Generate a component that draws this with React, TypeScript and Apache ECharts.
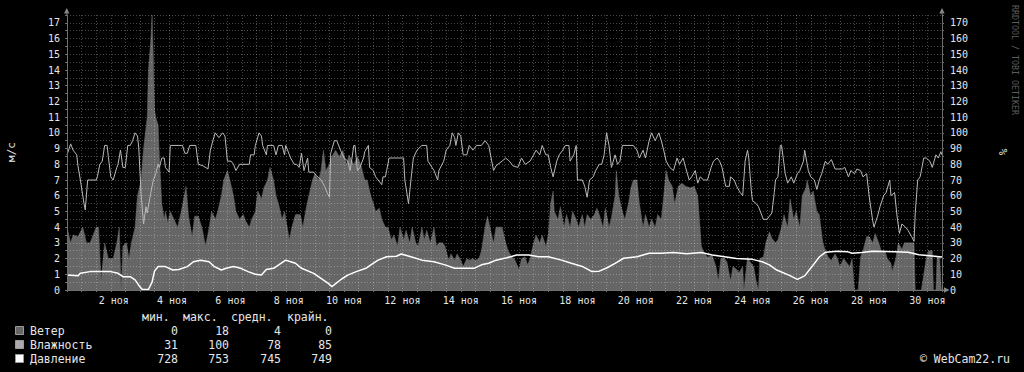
import React, { useEffect, useRef } from "react";
import * as echarts from "echarts";

// Time axis: hours since 31 Oct 12:00 (0..720 = 30 days)
const monthLabel = "ноя";

// Wind speed, m/s: [hour, value]
const windData: [number, number][] = [
  [0, 4], [3, 3], [5, 3.5], [9, 3.4], [13, 4], [16, 3], [19, 3], [24, 4], [26, 4], [28, 0.6],
  [31, 3], [34, 2], [38, 2], [41, 3], [43, 4], [44.5, 0], [46, 2.8], [49, 3], [51, 2], [53, 3],
  [56, 4], [58, 6], [61, 7], [63, 9], [66, 11], [67, 14], [69, 16], [70, 17.5], [71, 15], [72, 11.5],
  [73, 11], [75, 10.5], [76, 8.5], [78, 5.5], [80, 4.5], [81, 5], [83, 4.3], [85, 5], [88, 4.5], [91, 4],
  [94, 5], [98, 6.6], [100, 4.7], [103, 3.4], [105, 4.7], [108, 4.7], [111, 4], [114, 2.8], [117, 4], [119, 5],
  [122, 4.5], [124, 5], [127, 6], [129, 7], [132, 7.6], [134, 7], [137, 6], [139, 5], [142, 4.5], [145, 4.8],
  [147, 4.4], [150, 4], [152, 4.5], [155, 5], [157, 6.3], [160, 5.8], [162, 6.5], [165, 7], [167, 7.8], [170, 7],
  [172, 6], [174, 5.5], [177, 4.5], [179, 5], [183, 3.2], [185, 4], [188, 4.8], [192, 4.8], [194, 4], [197, 5.3],
  [199, 6], [202, 7], [204, 7.4], [207, 7], [209, 7.6], [211, 8.9], [213, 7.6], [216, 8], [218, 8.5], [221, 8.9],
  [224, 8.5], [227, 8.9], [230, 8], [232, 8.6], [236, 8], [239, 8.5], [242, 7.9], [245, 7], [247, 7], [250, 6],
  [252, 5.5], [254, 5], [257, 5.2], [259, 4.5], [262, 4], [264, 4], [267, 3.2], [269, 3.5], [272, 2.8], [274, 4],
  [277, 3.2], [279, 3.8], [282, 3], [284, 4], [287, 3], [289, 2.8], [292, 4], [294, 3.2], [296, 3.8], [299, 3],
  [302, 4], [304, 2.8], [306, 3], [309, 3], [311, 2.8], [314, 1.9], [316, 2.3], [319, 1.9], [321, 2.3], [324, 1.9],
  [326, 1.5], [329, 2], [331, 1.9], [334, 2], [336, 1.9], [339, 2], [341, 2.5], [344, 4], [346, 4.7], [348, 4],
  [351, 3], [353, 4], [356, 4], [358, 4], [361, 3], [363, 2.5], [366, 2.1], [368, 2], [372, 1.3], [374, 2],
  [377, 2.1], [379, 1.6], [381, 2], [384, 3], [386, 3.5], [389, 3], [391, 3.5], [394, 2.8], [396, 3.5], [398, 5.5],
  [400, 6.3], [401, 5], [404, 4.5], [406, 5.3], [409, 4], [411, 4.8], [414, 4], [416, 5], [419, 4.5], [421, 4],
  [424, 4.8], [426, 4], [428, 4.8], [431, 4.5], [434, 4.8], [436, 5.2], [438, 4.8], [441, 4], [443, 5.2], [446, 4],
  [448, 4.6], [451, 6], [452, 7.6], [454, 6], [457, 5], [459, 4.5], [462, 5.5], [464, 6.5], [466, 7], [469, 7],
  [471, 5.5], [474, 4], [476, 4.8], [479, 4], [481, 4.5], [484, 4], [486, 4.8], [489, 4.5], [491, 6], [493, 7.6],
  [495, 7], [498, 6.6], [500, 5.5], [503, 6.6], [506, 6.8], [509, 6.6], [513, 6.5], [516, 6.6], [519, 6], [522, 2.8],
  [524, 2.4], [527, 2.1], [531, 2.2], [534, 1.5], [536, 0.6], [538, 2], [541, 2], [543, 1.8], [546, 0.6], [548, 1.5],
  [551, 1.3], [553, 1.1], [556, 1.5], [557, 0], [560, 2.1], [562, 1.8], [565, 1.5], [567, 0.6], [569, 0], [570, 2],
  [573, 2.1], [575, 3], [578, 3.7], [580, 3.3], [583, 3], [585, 3.2], [588, 4], [590, 4.8], [593, 4], [595, 5.8],
  [598, 4.5], [600, 5], [603, 4], [605, 6], [608, 6.5], [609, 7], [612, 6], [614, 6.3], [617, 5], [619, 4.8],
  [622, 3], [624, 2.5], [627, 2], [629, 1.9], [632, 2.3], [634, 2], [636, 1.5], [639, 2], [641, 1.8], [644, 1.5],
  [646, 2], [648, 0], [651, 0], [653, 2.1], [655, 2.5], [658, 3.4], [660, 3.4], [663, 3], [665, 3.6], [668, 3],
  [670, 2.5], [673, 2.5], [675, 2], [678, 1.7], [679, 1.2], [682, 2], [684, 3], [687, 2.6], [689, 3], [692, 3],
  [694, 3], [697, 3], [698, 0], [703, 0], [705, 1], [707, 2], [709, 2.5], [712, 2.5], [713, 0], [715, 0],
  [716, 2.1], [718, 2.1], [719.5, 0], [720, 0],
];

// Relative humidity, %: [hour, value]
const humidityData: [number, number][] = [
  [0, 86], [3, 93], [5, 89], [8, 86], [9, 79], [11, 70], [13, 60], [14, 55], [15, 51], [17, 70],
  [19, 70], [24, 70], [25, 72], [27, 80], [29, 82], [31, 92], [33, 92], [34, 85], [36, 72], [38, 70],
  [41, 78], [42, 80], [44, 89], [46, 78], [48, 78], [50, 92], [52, 92], [54, 95], [56, 100], [58, 98],
  [59, 91], [61, 61], [63, 42], [65, 53], [66, 49], [69, 62], [71, 70], [73, 74], [75, 80], [76, 78],
  [78, 84], [80, 84], [81, 78], [84, 75], [85, 92], [95, 92], [97, 87], [99, 87], [101, 92], [106, 92],
  [108, 80], [112, 79], [116, 77], [118, 89], [120, 95], [122, 100], [125, 97], [128, 100], [130, 98], [132, 82],
  [135, 82], [137, 80], [139, 76], [142, 80], [150, 80], [151, 86], [154, 86], [155, 92], [158, 100], [160, 98],
  [161, 92], [164, 86], [165, 92], [170, 92], [172, 86], [174, 92], [177, 92], [179, 86], [180, 92], [183, 86],
  [184, 84], [187, 80], [189, 80], [191, 78], [193, 87], [195, 76], [198, 84], [199, 75], [203, 75], [205, 73],
  [209, 70], [212, 66], [214, 62], [216, 59], [217, 87], [220, 95], [222, 95], [225, 89], [228, 84], [231, 82],
  [233, 76], [236, 92], [237, 92], [239, 76], [241, 78], [244, 84], [245, 88], [248, 92], [249, 78], [252, 76],
  [254, 72], [256, 70], [259, 67], [260, 72], [262, 72], [263, 76], [265, 84], [277, 84], [278, 70], [281, 55],
  [283, 70], [285, 84], [288, 89], [292, 92], [296, 92], [297, 82], [302, 76], [305, 70], [306, 76], [310, 82],
  [312, 89], [315, 92], [317, 100], [319, 97], [320, 92], [322, 100], [324, 98], [326, 86], [329, 86], [331, 92],
  [334, 89], [337, 92], [341, 92], [344, 95], [347, 92], [349, 84], [351, 76], [353, 79], [358, 82], [361, 84],
  [364, 82], [367, 79], [371, 78], [374, 84], [377, 80], [381, 82], [384, 86], [386, 89], [389, 86], [391, 92],
  [394, 86], [396, 86], [398, 78], [400, 72], [403, 82], [405, 86], [408, 89], [410, 92], [413, 92], [414, 82],
  [417, 86], [419, 92], [420, 70], [424, 70], [426, 66], [428, 59], [430, 70], [433, 72], [435, 76], [438, 80],
  [440, 80], [442, 86], [444, 100], [446, 92], [448, 78], [451, 86], [453, 80], [455, 82], [457, 92], [466, 92],
  [469, 89], [471, 84], [474, 89], [476, 84], [479, 95], [481, 100], [484, 95], [487, 100], [489, 95], [491, 89],
  [493, 82], [496, 78], [499, 76], [502, 84], [504, 80], [507, 84], [509, 78], [512, 70], [514, 72], [517, 76],
  [519, 68], [521, 72], [524, 70], [527, 70], [530, 78], [532, 82], [535, 84], [537, 82], [539, 78], [541, 70],
  [542, 66], [545, 66], [546, 72], [549, 70], [551, 66], [554, 62], [556, 60], [558, 82], [560, 89], [561, 84],
  [563, 64], [564, 57], [567, 55], [569, 53], [571, 49], [573, 45], [576, 45], [578, 47], [580, 49], [582, 62],
  [583, 70], [585, 72], [587, 92], [588, 92], [591, 74], [593, 68], [596, 72], [598, 68], [601, 74], [603, 76],
  [606, 82], [607, 89], [610, 76], [612, 72], [615, 70], [617, 64], [619, 70], [621, 74], [624, 82], [626, 80],
  [629, 83], [632, 77], [638, 77], [640, 78], [643, 72], [645, 76], [648, 74], [650, 77], [653, 76], [655, 72],
  [658, 74], [660, 60], [663, 44], [664, 40], [667, 47], [669, 53], [672, 60], [674, 62], [677, 70], [678, 60],
  [681, 62], [683, 47], [685, 36], [687, 42], [690, 40], [692, 38], [695, 34], [697, 31], [698, 49], [700, 70],
  [702, 72], [705, 84], [707, 84], [710, 82], [712, 78], [715, 86], [717, 84], [719, 88], [720, 86],
];

// Pressure, mmHg: [hour, value]
const pressureData: [number, number][] = [
  [0, 737.5], [9, 737], [11, 738.6], [19, 739.7], [36, 739.7], [42, 738.6], [46, 736.5], [52, 736.5], [56, 734.4], [60, 730],
  [62, 728.3], [67, 728.3], [70, 733], [72, 740], [75, 742.9], [81, 742.9], [87, 740.7], [92, 741], [99, 742.9], [104, 746],
  [110, 747], [117, 746], [121, 743], [127, 740.7], [131, 741.8], [137, 742.9], [143, 741.8], [149, 739.7], [155, 738], [160, 737.5],
  [164, 741], [170, 741.8], [176, 745], [180, 747], [184, 746], [188, 745], [193, 741.8], [203, 738.6], [209, 735.4], [215, 732.2],
  [218, 730.1], [221, 732], [226, 735], [231, 737.5], [238, 739.7], [246, 741.8], [250, 744], [256, 747], [263, 749.2], [271, 749.5],
  [275, 750.9], [283, 749.2], [292, 747], [302, 746], [311, 744], [319, 741.8], [329, 741.8], [335, 741.8], [341, 744], [347, 745],
  [353, 747], [362, 748.5], [370, 750.3], [380, 750.3], [388, 749.2], [396, 749.2], [407, 747], [415, 745], [424, 743], [432, 739.7],
  [438, 740], [444, 742], [451, 745], [458, 748.2], [469, 749.2], [479, 751.4], [489, 751.4], [499, 751.8], [510, 751], [522, 751.8],
  [531, 750.3], [541, 749.2], [551, 748], [564, 747.5], [572, 746], [578, 744], [584, 740.7], [594, 737.5], [601, 734.8], [607, 737],
  [613, 742.9], [619, 749], [624, 752], [634, 752.6], [642, 752.4], [646, 751.4], [654, 751.8], [663, 752.6], [681, 752.4], [692, 752],
  [701, 750.5], [710, 749.8], [720, 749],
];
const pressureOffset = 728;

const legendHeaders = ["мин.", "макс.", "средн.", "крайн."];
const legendNames = ["Ветер", "Влажность", "Давление"];
const legendMin = [0, 31, 728];
const legendMax = [18, 100, 753];
const legendAvg = [4, 78, 745];
const legendLast = [0, 85, 749];
const legendColors = ["#666666", "#aaaaaa", "#ffffff"];

const leftTitle = "м/с";
const rightTitle = "%";
const watermark = "RRDTOOL / TOBI OETIKER";
const copyright = "© WebCam22.ru";

const MONO = '"DejaVu Sans Mono", monospace';
const TXT = "#e6e6e6";
const AXIS = "#707070";
const GRID_MINOR = "rgba(255,255,255,0.28)";

export default function App() {
  const ref = useRef<HTMLDivElement>(null);

  useEffect(() => {
    document.body.style.margin = "0";
    document.body.style.background = "#000";
    const chart = echarts.init(ref.current!, null, { renderer: "svg" });

    const headerX = [142, 183, 231, 287];
    const colRight = [178, 229, 281, 332];
    const rowY = [331, 345, 359];

    const graphic: any[] = [];
    // arrows
    graphic.push({ type: "polygon", shape: { points: [[66.7, 8], [64, 13.5], [69.4, 13.5]] }, style: { fill: "#8a8a8a" } });
    graphic.push({ type: "polygon", shape: { points: [[942, 8], [939.3, 13.5], [944.7, 13.5]] }, style: { fill: "#8a8a8a" } });
    graphic.push({ type: "polygon", shape: { points: [[944, 287.3], [944, 292.7], [949.5, 290]] }, style: { fill: "#8a8a8a" } });
    graphic.push({ type: "line", shape: { x1: 66.7, y1: 12, x2: 66.7, y2: 15 }, style: { stroke: AXIS, lineWidth: 1 } });
    graphic.push({ type: "line", shape: { x1: 942, y1: 12, x2: 942, y2: 15 }, style: { stroke: AXIS, lineWidth: 1 } });
    graphic.push({ type: "line", shape: { x1: 941, y1: 290, x2: 945, y2: 290 }, style: { stroke: AXIS, lineWidth: 1 } });

    // axis titles
    graphic.push({ type: "text", x: 11, y: 152, rotation: Math.PI / 2, style: { text: leftTitle, fill: TXT, font: `11px ${MONO}`, textAlign: "center", textVerticalAlign: "middle" } });
    graphic.push({ type: "text", x: 1003, y: 152, rotation: Math.PI / 2, style: { text: rightTitle, fill: TXT, font: `11px ${MONO}`, textAlign: "center", textVerticalAlign: "middle" } });
    graphic.push({ type: "text", x: 1015, y: 5, rotation: -Math.PI / 2, style: { text: watermark, fill: "#5c5c5c", font: `8.3px ${MONO}`, textAlign: "left", textVerticalAlign: "middle" } });

    // legend
    legendHeaders.forEach((h, i) => {
      graphic.push({ type: "text", x: headerX[i], y: 317, style: { text: h, fill: TXT, font: `11.5px ${MONO}`, textAlign: "left", textVerticalAlign: "middle" } });
    });
    legendNames.forEach((n, r) => {
      graphic.push({ type: "rect", shape: { x: 15.5, y: rowY[r] - 4.5, width: 8, height: 8 }, style: { fill: legendColors[r], stroke: "#9a9a9a", lineWidth: 1 } });
      graphic.push({ type: "text", x: 30, y: rowY[r], style: { text: n, fill: TXT, font: `11.5px ${MONO}`, textAlign: "left", textVerticalAlign: "middle" } });
      const vals = [legendMin[r], legendMax[r], legendAvg[r], legendLast[r]];
      vals.forEach((v, c) => {
        graphic.push({ type: "text", x: colRight[c], y: rowY[r], style: { text: String(v), fill: TXT, font: `11.5px ${MONO}`, textAlign: "right", textVerticalAlign: "middle" } });
      });
    });
    graphic.push({ type: "text", x: 1010, y: 359, style: { text: copyright, fill: TXT, font: `11.5px ${MONO}`, textAlign: "right", textVerticalAlign: "middle" } });

    const option: any = {
      animation: false,
      backgroundColor: "#000000",
      grid: { left: 67, top: 15, width: 875, height: 275, containLabel: false },
      xAxis: {
        type: "value",
        min: 0,
        max: 720,
        interval: 12,
        z: 5,
        axisLine: { show: true, onZero: false, lineStyle: { color: AXIS, width: 1 } },
        axisTick: { show: true, length: 2, lineStyle: { color: AXIS } },
        axisLabel: {
          color: TXT,
          fontFamily: MONO,
          fontSize: 10,
          margin: 5,
          showMinLabel: true,
          showMaxLabel: true,
          formatter: (v: number) => {
            if ((v - 36) % 48 !== 0) return "";
            const day = (v - 12) / 24 + 1;
            return (day < 10 ? "\u00a0" : "") + day + " " + monthLabel;
          },
        },
        splitLine: { show: true, lineStyle: { color: GRID_MINOR, width: 1, type: [1, 2] } },
      },
      yAxis: [
        {
          type: "value",
          position: "left",
          min: 0,
          max: 17.5,
          interval: 0.5,
          z: 5,
          axisLine: { show: true, lineStyle: { color: AXIS, width: 1 } },
          axisTick: { show: true, length: 2, inside: false, lineStyle: { color: AXIS } },
          axisLabel: {
            color: TXT,
            fontFamily: MONO,
            fontSize: 10,
            margin: 7,
            formatter: (v: number) => (Math.abs(v - Math.round(v)) < 1e-6 ? String(Math.round(v)) : ""),
          },
          splitLine: { show: true, lineStyle: { color: GRID_MINOR, width: 1, type: [1, 2] } },
        },
        {
          type: "value",
          position: "right",
          min: 0,
          max: 175,
          interval: 5,
          z: 5,
          axisLine: { show: true, lineStyle: { color: AXIS, width: 1 } },
          axisTick: { show: true, length: 2, lineStyle: { color: AXIS } },
          axisLabel: {
            color: TXT,
            fontFamily: MONO,
            fontSize: 10,
            margin: 8,
            formatter: (v: number) => (Math.round(v) % 10 === 0 ? String(Math.round(v)) : ""),
          },
          splitLine: { show: false },
        },
      ],
      series: [
        {
          name: legendNames[0],
          type: "line",
          data: windData,
          xAxisIndex: 0,
          yAxisIndex: 0,
          symbol: "none",
          z: 1,
          lineStyle: { width: 0.5, color: "#666666" },
          areaStyle: { color: "#666666", opacity: 1 },
        },
        {
          name: legendNames[1],
          type: "line",
          data: humidityData,
          xAxisIndex: 0,
          yAxisIndex: 1,
          symbol: "none",
          z: 2,
          lineStyle: { width: 1, color: "#b8b8b8" },
        },
        {
          name: legendNames[2],
          type: "line",
          data: pressureData.map(([h, p]) => [h, p - pressureOffset]),
          xAxisIndex: 0,
          yAxisIndex: 1,
          symbol: "none",
          z: 3,
          lineStyle: { width: 1.5, color: "#ffffff" },
        },
      ],
      graphic,
    };

    chart.setOption(option);
    return () => chart.dispose();
  }, []);

  return (
    <div
      ref={ref}
      style={{ position: "fixed", left: 0, top: 0, width: 1024, height: 372, background: "#000" }}
    />
  );
}
